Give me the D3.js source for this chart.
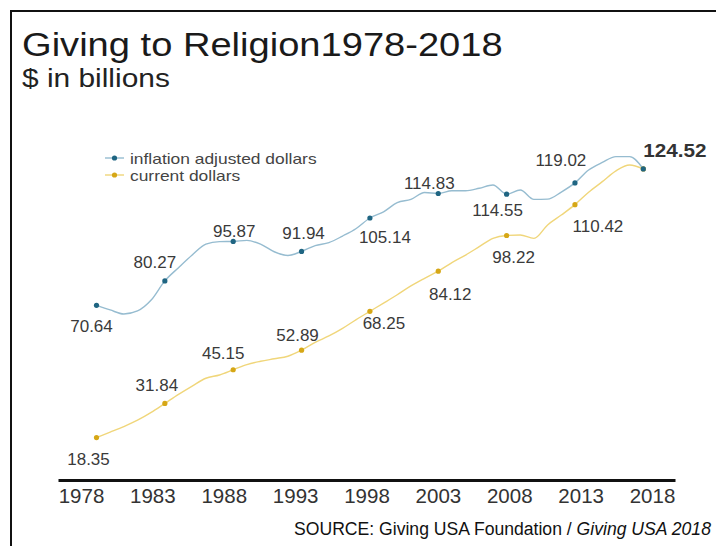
<!DOCTYPE html>
<html>
<head>
<meta charset="utf-8">
<script src="https://cdn.jsdelivr.net/npm/d3@7"></script>
<style>
  body { margin: 0; background: #fff; }
  svg { display: block; font-family: "Liberation Sans", Arial, sans-serif; }
</style>
</head>
<body>
<svg></svg>
<script>
// Giving to Religion 1978-2018

let svgWidth = 716;
let svgHeight = 546;

let years = d3.range(1978, 2019);

let inflation = [70.64, 68.8, 67.2, 68.4, 72.7, 80.27, 85.5, 90.5, 94.8, 95.8,
	95.87, 96.3, 94.8, 91.8, 90.3, 91.94, 94.2, 95.4, 98.0, 101.0,
	105.14, 107.6, 111.2, 112.5, 115.2, 114.83, 115.9, 115.9, 116.9, 118.2,
	114.55, 116.2, 112.5, 112.6, 115.4, 119.02, 124.1, 127.1, 129.4, 129.4,
	124.52];

let current = [18.35, 20.5, 22.7, 25.2, 28.3, 31.84, 35.4, 38.7, 41.8, 43.1,
	45.15, 47.2, 48.5, 49.5, 50.5, 52.89, 56.0, 58.5, 61.5, 65.0,
	68.25, 71.5, 74.8, 78.3, 81.3, 84.12, 87.5, 90.5, 93.8, 97.1,
	98.22, 98.4, 97.1, 102.4, 106.3, 110.42, 115.3, 119.5, 123.8, 126.1,
	124.52];

let labelYears = [1978, 1983, 1988, 1993, 1998, 2003, 2008, 2013, 2018];
let tickLabels = ["1978", "1983", "1988", "1993", "1998", "2003", "2008", "2013", "2018"];
let seriesNames = ["inflation adjusted dollars", "current dollars"];

// label offsets from the dot: [dx, dy]
let inflationOffsets = [[-5, 27], [-10, -13], [1, -4], [2, -12], [15, 25], [-9, -4], [-9, 22], [-14, -17]];
let currentOffsets = [[-8, 27], [-8, -12], [-10, -11], [-4, -9], [14, 18], [12, 29], [7, 27], [23, 27]];

let blueLine = "#96bcd0", blueDot = "#1f6582";
let goldLine = "#f0d67a", goldDot = "#d6a716";

let svg = d3.select("svg")
	.attr("width", svgWidth)
	.attr("height", svgHeight);

// frame
svg.append("path")
	.attr("d", "M11,546 V11 H716")
	.attr("fill", "none")
	.attr("stroke", "#111")
	.attr("stroke-width", 2);

// titles
svg.append("text")
	.attr("transform", "translate(22,56) scale(1.155,1)")
	.attr("font-size", 33)
	.attr("fill", "#1a1a1a")
	.text("Giving to Religion1978-2018");

svg.append("text")
	.attr("transform", "translate(22,87) scale(1.15,1)")
	.attr("font-size", 26)
	.attr("fill", "#222")
	.text("$ in billions");

let xScale = d3.scaleLinear()
	.domain([1978, 2018])
	.range([96.5, 643.3]);

let yScale = d3.scaleLinear()
	.domain([0, 130])
	.range([484, 484 - 130 * 2.53]);

let tickScale = d3.scalePoint()
	.domain(tickLabels)
	.range([58, 675])
	.padding(0.322);

// axis
let axis = svg.append("g")
	.attr("transform", "translate(0,480)")
	.call(d3.axisBottom(tickScale).tickSize(0).tickSizeOuter(0).tickPadding(8));

axis.select(".domain")
	.attr("stroke", "#111")
	.attr("stroke-width", 3);

axis.selectAll("text")
	.attr("font-family", "Liberation Sans, Arial, sans-serif")
	.attr("font-size", 20.5)
	.attr("fill", "#333");

let line = d3.line()
	.x(function (d, i) { return xScale(years[i]); })
	.y(function (d) { return yScale(d); })
	.curve(d3.curveMonotoneX);

svg.append("path")
	.datum(current)
	.attr("d", line)
	.attr("fill", "none")
	.attr("stroke", goldLine)
	.attr("stroke-width", 1.4);

svg.append("path")
	.datum(inflation)
	.attr("d", line)
	.attr("fill", "none")
	.attr("stroke", blueLine)
	.attr("stroke-width", 1.4);

function valueAt(series, yr) {
	return series[years.indexOf(yr)];
}

// dots
svg.selectAll(".dot-current")
	.data(labelYears)
	.enter()
	.append("circle")
	.attr("cx", function (d) { return xScale(d); })
	.attr("cy", function (d) { return yScale(valueAt(current, d)); })
	.attr("r", 2.6)
	.attr("fill", goldDot);

svg.selectAll(".dot-inflation")
	.data(labelYears)
	.enter()
	.append("circle")
	.attr("cx", function (d) { return xScale(d); })
	.attr("cy", function (d) { return yScale(valueAt(inflation, d)); })
	.attr("r", 2.6)
	.attr("fill", blueDot);

// value labels
function addLabels(series, offsets) {
	svg.selectAll(null)
		.data(labelYears.slice(0, offsets.length))
		.enter()
		.append("text")
		.attr("x", function (d, i) { return xScale(d) + offsets[i][0]; })
		.attr("y", function (d, i) { return yScale(valueAt(series, d)) + offsets[i][1]; })
		.attr("text-anchor", "middle")
		.attr("font-size", 17)
		.attr("fill", "#3a3a3a")
		.text(function (d) { return d3.format(".2f")(valueAt(series, d)); });
}
addLabels(inflation, inflationOffsets);
addLabels(current, currentOffsets);

let last = valueAt(inflation, 2018);
svg.append("text")
	.attr("transform", "translate(" + xScale(2018) + "," + (yScale(last) - 12) + ") scale(1.15,1)")
	.attr("font-size", 18)
	.attr("font-weight", "bold")
	.attr("fill", "#333")
	.text(d3.format(".2f")(last));

// legend
let legend = svg.append("g");
let legendColors = [[blueLine, blueDot], [goldLine, goldDot]];
seriesNames.forEach(function (name, i) {
	let cy = 158 + i * 17;
	legend.append("line")
		.attr("x1", 105).attr("x2", 124)
		.attr("y1", cy).attr("y2", cy)
		.attr("stroke", legendColors[i][0])
		.attr("stroke-width", 1.4);
	legend.append("circle")
		.attr("cx", 114.5).attr("cy", cy)
		.attr("r", 2.6)
		.attr("fill", legendColors[i][1]);
	legend.append("text")
		.attr("transform", "translate(130," + (cy + 5.5) + ") scale(1.16,1)")
		.attr("font-size", 15)
		.attr("fill", "#444")
		.text(name);
});

// source
let source = svg.append("text")
	.attr("x", 294)
	.attr("y", 535)
	.attr("font-size", 17.6)
	.attr("fill", "#111");
source.append("tspan").text("SOURCE: Giving USA Foundation / ");
source.append("tspan").attr("font-style", "italic").text("Giving USA 2018");
</script>
</body>
</html>
